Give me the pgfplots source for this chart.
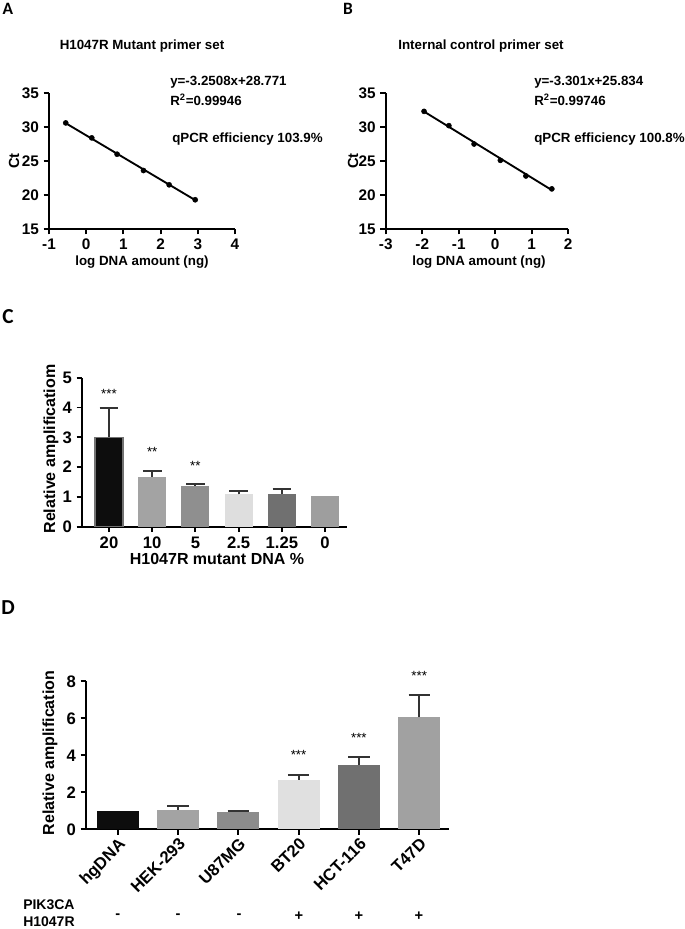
\documentclass[border=0pt]{standalone}
\usepackage{pgfplots}
\pgfplotsset{compat=1.18}
\usepackage{fontspec}
\setmainfont{Liberation Sans}
\newfontfamily\letterfont{Carlito}
\definecolor{errc}{HTML}{333333}
\pgfplotsset{
  gp/.style={scale only axis, anchor=south west, clip=false,
    axis x line=bottom, axis y line=left,
    axis line style={line width=1.4pt,-},
    every tick/.style={line width=1.4pt, black},
    tick align=outside, major tick length=4pt,
    /pgf/number format/assume math mode=true,
    tick label style={font=\bfseries\fontsize{11.5}{13}\selectfont},
  },
  gpbar/.style={ybar, bar shift=0pt, draw=none,
    /pgfplots/error bars/y dir=plus, /pgfplots/error bars/y explicit,
    /pgfplots/error bars/error bar style={line width=1.4pt, color=errc},
    /pgfplots/error bars/error mark options={rotate=90, line width=1.4pt, color=errc, mark size=#1}},
}
\begin{document}
\begin{tikzpicture}[x=0.75pt,y=-0.75pt]
\useasboundingbox (0,0) rectangle (685,929);
% ---------------- A ----------------
\begin{axis}[gp, at={(36.75pt,-171.75pt)}, width=139.5pt, height=102pt,
  xmin=-1, xmax=4, ymin=15, ymax=35, xtick={-1,0,...,4}, ytick={15,20,...,35}]
\addplot[only marks, mark=*, mark size=1.9pt, black] coordinates {
(-0.55,30.6) (0.15,28.4) (0.83,26.0) (1.54,23.6) (2.23,21.5) (2.93,19.3)};
\addplot[line width=1.4pt, black, no marks] coordinates {(-0.55,30.56) (2.93,19.25)};
\end{axis}
% ---------------- B ----------------
\begin{axis}[gp, at={(289.3pt,-171.75pt)}, width=136.9pt, height=102pt,
  xmin=-3, xmax=2, ymin=15, ymax=35, xtick={-3,-2,...,2}, ytick={15,20,...,35}]
\addplot[only marks, mark=*, mark size=1.9pt, black] coordinates {
(-1.95,32.3) (-1.27,30.2) (-0.58,27.5) (0.14,25.1) (0.84,22.8) (1.55,20.9)};
\addplot[line width=1.4pt, black, no marks] coordinates {(-1.95,32.27) (1.55,20.72)};
\end{axis}
% ---------------- C ----------------
\begin{axis}[gp, at={(61.5pt,-395.0pt)}, width=198.5pt, height=111.75pt,
  xmin=-0.625, xmax=5.5, ymin=0, ymax=5, ytick={0,...,5},
  xtick={0,...,5}, xticklabels={20,10,5,2.5,1.25,0},
  tick label style={font=\bfseries\fontsize{12.5}{14}\selectfont},
  bar width=21pt]
\addplot[gpbar=7pt, fill=black!95, draw=black!55, line width=1pt] coordinates {(0,3.0) +- (0,0.98)};
\addplot[gpbar=7pt, fill=black!36] coordinates {(1,1.68) +- (0,0.19)};
\addplot[gpbar=7pt, fill=black!44] coordinates {(2,1.38) +- (0,0.04)};
\addplot[gpbar=7pt, fill=black!13] coordinates {(3,1.08) +- (0,0.13)};
\addplot[gpbar=7pt, fill=black!56] coordinates {(4,1.10) +- (0,0.16)};
\addplot[ybar, bar shift=0pt, draw=none, fill=black!38] coordinates {(5,1.02)};
\node[font=\fontsize{10}{10}\selectfont] at (axis cs:0,4.45) {***};
\node[font=\fontsize{10}{10}\selectfont] at (axis cs:1,2.52) {**};
\node[font=\fontsize{10}{10}\selectfont] at (axis cs:2,2.05) {**};
\end{axis}
% ---------------- D ----------------
\begin{axis}[gp, at={(64.5pt,-622.0pt)}, width=272.5pt, height=111pt,
  xmin=-0.525, xmax=5.5, ymin=0, ymax=8, ytick={0,2,...,8},
  xtick={0,...,5}, xticklabels={hgDNA,HEK-293,U87MG,BT20,HCT-116,T47D},
  tick label style={font=\bfseries\fontsize{12.5}{14}\selectfont},
  xticklabel style={rotate=45, anchor=north east, inner sep=1pt},
  bar width=31.5pt]
\addplot[ybar, bar shift=0pt, draw=none, fill=black!95] coordinates {(0,1.0)};
\addplot[gpbar=8pt, fill=black!36] coordinates {(1,1.05) +- (0,0.20)};
\addplot[gpbar=8pt, fill=black!45] coordinates {(2,0.95) +- (0,0.05)};
\addplot[gpbar=8pt, fill=black!12] coordinates {(3,2.68) +- (0,0.24)};
\addplot[gpbar=8pt, fill=black!56] coordinates {(4,3.50) +- (0,0.40)};
\addplot[gpbar=8pt, fill=black!37] coordinates {(5,6.05) +- (0,1.22)};
\node[font=\fontsize{10}{10}\selectfont] at (axis cs:3,4.0) {***};
\node[font=\fontsize{10}{10}\selectfont] at (axis cs:4,4.95) {***};
\node[font=\fontsize{10}{10}\selectfont] at (axis cs:5,8.3) {***};
\end{axis}
% ---------------- texts ----------------
\begin{scope}[every node/.style={font=\bfseries\fontsize{10}{12}\selectfont, inner sep=0pt}]
\node[font=\letterfont\bfseries\fontsize{13}{14}\selectfont] at (8,9) {A};
\node[font=\letterfont\bfseries\fontsize{13}{14}\selectfont] at (348,9) {B};
\node[font=\letterfont\bfseries\fontsize{16}{18}\selectfont] at (8,317) {C};
\node[font=\letterfont\bfseries\fontsize{16}{18}\selectfont] at (8,608) {D};
\node at (142,46) {H1047R Mutant primer set};
\node at (481,46) {Internal control primer set};
\node[anchor=west] at (170,82) {y=-3.2508x+28.771};
\node[anchor=west] at (170,100) {R\textsuperscript{2}=0.99946};
\node[anchor=west] at (172,139) {qPCR efficiency 103.9\%};
\node[anchor=west] at (534,82) {y=-3.301x+25.834};
\node[anchor=west] at (534,100) {R\textsuperscript{2}=0.99746};
\node[anchor=west] at (534,139) {qPCR efficiency 100.8\%};
\node[rotate=90, font=\bfseries\fontsize{11}{12}\selectfont] at (14,161) {Ct};
\node[rotate=90, font=\bfseries\fontsize{11}{12}\selectfont] at (353,161) {Ct};
\node at (142,262) {log DNA amount (ng)};
\node at (479,262) {log DNA amount (ng)};
\node[font=\bfseries\fontsize{12}{14}\selectfont] at (217,559) {H1047R mutant DNA \%};
\node[rotate=90, font=\bfseries\fontsize{12}{14}\selectfont] at (51,449) {Relative amplificatiom};
\node[rotate=90, font=\bfseries\fontsize{12}{14}\selectfont] at (50,753) {Relative amplification};
\node[anchor=west, font=\bfseries\fontsize{10.5}{12}\selectfont] at (23,905) {PIK3CA};
\node[anchor=west, font=\bfseries\fontsize{10.5}{12}\selectfont] at (23,921.5) {H1047R};
\foreach \xx in {117.7,178,239} \node[font=\bfseries\fontsize{11}{12}\selectfont] at (\xx,916) {-};
\foreach \xx in {299,359,419} \node[font=\bfseries\fontsize{11}{12}\selectfont] at (\xx,916) {+};
\end{scope}
\end{tikzpicture}
\end{document}
